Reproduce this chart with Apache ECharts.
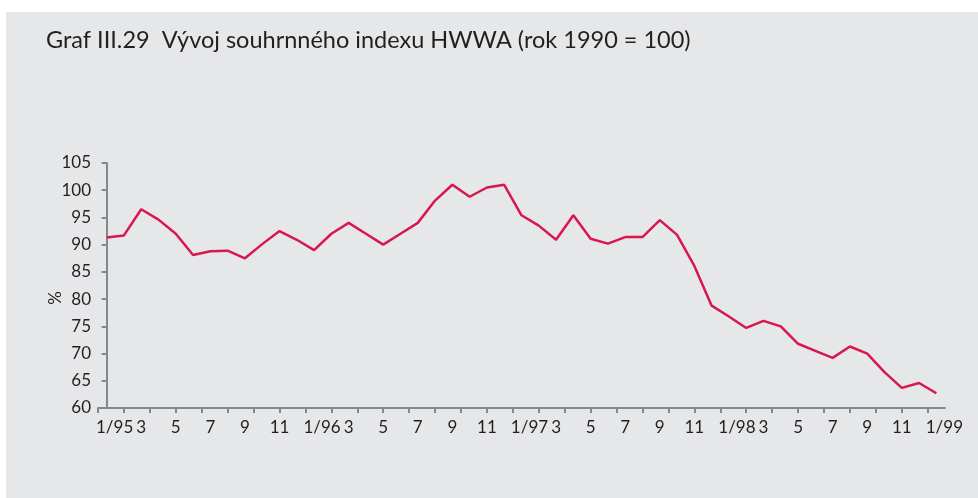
<!DOCTYPE html>
<head>
    <meta charset="utf-8">
    <title>Graf III.29</title>
</head>
<body style="margin:0;background:#ffffff">
    <div id="main" style="width:978px;height:498px"></div>
    <script src="https://cdn.jsdelivr.net/npm/echarts@6/dist/echarts.min.js"></script>
    <script type="text/javascript">

    // monthly index values, 1/95 .. 1/99
    var months = ['1/95','2','3','4','5','6','7','8','9','10','11','12',
                  '1/96','2','3','4','5','6','7','8','9','10','11','12',
                  '1/97','2','3','4','5','6','7','8','9','10','11','12',
                  '1/98','2','3','4','5','6','7','8','9','10','11','12',
                  '1/99'];
    var hwwa = [91.3, 91.7, 96.5, 94.6, 92.0, 88.1, 88.8, 88.9, 87.5, 90.1, 92.5, 90.9,
                89.0, 92.0, 94.0, 92.0, 90.0, 92.0, 94.0, 98.1, 101.0, 98.8, 100.5, 101.0,
                95.4, 93.5, 90.9, 95.4, 91.1, 90.2, 91.4, 91.4, 94.5, 91.8, 86.1, 78.8,
                76.8, 74.7, 76.0, 75.0, 71.8, 70.5, 69.2, 71.3, 70.0, 66.6, 63.7, 64.6, 62.7];
    var yTicks = [60, 105, 5];

    var myChart = echarts.init(document.getElementById('main'));

    var points = hwwa.map(function (v, i) { return [i, v]; });
    var labelValues = [];
    for (var i = 0; i < months.length; i += 2) labelValues.push(i);
    // ticks of the original run every month and a half
    var tickValues = [];
    for (var t = -0.5; t <= months.length - 1; t += 1.5) tickValues.push(t);

    var font = 'Lato';
    var axisGray = '#85878a';

    var option = {
        backgroundColor: '#ffffff',
        animation: false,
        graphic: [
            { type: 'rect', left: 6, top: 12, shape: { width: 972, height: 486 },
              style: { fill: '#e6e7e9' }, z: -10 },
            { type: 'text', left: 46, top: 28,
              style: { text: 'Graf III.29  Vývoj souhrnného indexu HWWA (rok 1990 = 100)',
                       font: '23.5px Lato', fill: '#231f20' } },
            { type: 'text', x: 56, y: 298, rotation: Math.PI / 2,
              style: { text: '%', font: '17px Lato', fill: '#231f20',
                       align: 'center', verticalAlign: 'middle' } }
        ],
        grid: { left: 98, right: 33, top: 163, bottom: 90 },
        xAxis: {
            type: 'value',
            min: -0.5,
            max: months.length - 0.5,
            splitLine: { show: false },
            axisLine: { lineStyle: { color: axisGray, width: 2 } },
            axisTick: { customValues: tickValues, length: 5, lineStyle: { color: axisGray, width: 2 } },
            axisLabel: {
                customValues: labelValues,
                margin: 11,
                fontFamily: font,
                fontSize: 17,
                color: '#231f20',
                formatter: function (v) {
                    var s = months[Math.round(v)];
                    return s.indexOf('/') >= 0 ? '{y|' + s + '}' : s;
                },
                rich: { y: { fontFamily: font, fontSize: 17, color: '#231f20', padding: [0, 0, 0, 16] } }
            }
        },
        yAxis: {
            type: 'value',
            min: yTicks[0],
            max: yTicks[1],
            interval: yTicks[2],
            splitLine: { show: false },
            axisLine: { show: true, lineStyle: { color: axisGray, width: 2 } },
            axisTick: { show: true, length: 5, lineStyle: { color: axisGray, width: 2 } },
            axisLabel: { margin: 7, fontFamily: font, fontSize: 17, color: '#231f20' }
        },
        series: [{
            type: 'line',
            data: points,
            symbol: 'none',
            lineStyle: { color: '#d8174f', width: 2.5 }
        }]
    };

    myChart.setOption(option);
    </script>
</body>
